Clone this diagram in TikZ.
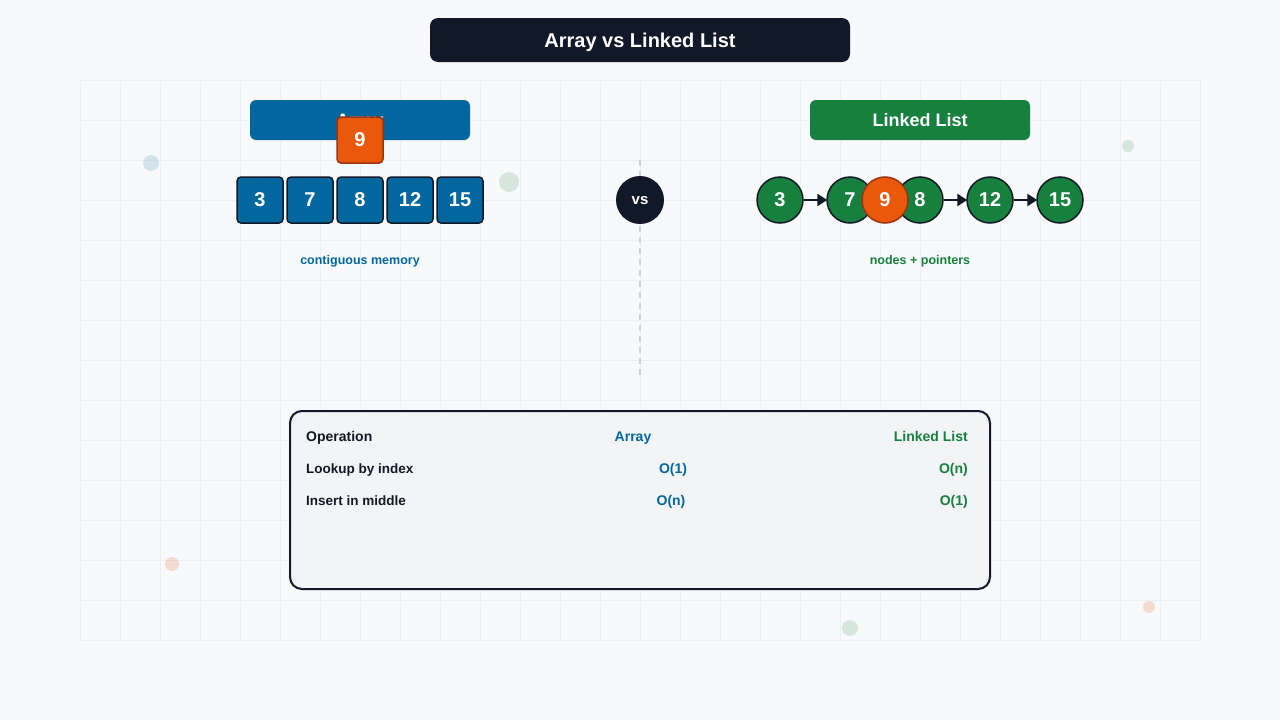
\documentclass[tikz,border=0pt]{standalone}
\usepackage{fontspec}
\setmainfont{Liberation Sans}
\usetikzlibrary{arrows.meta,positioning}

\definecolor{ink}{HTML}{111827}
\definecolor{arrblue}{HTML}{03679F}
\definecolor{listgreen}{HTML}{16803E}
\definecolor{hot}{HTML}{EA580C}
\definecolor{hotline}{HTML}{9A3412}
\definecolor{paper}{HTML}{F8F9FA}
\definecolor{gridc}{HTML}{EDEFF2}
\definecolor{panelc}{HTML}{F3F4F5}
\definecolor{dashc}{HTML}{CDD1D8}

\newcommand{\fs}[1]{\fontsize{#1}{#1}\selectfont\bfseries}

\begin{document}
\begin{tikzpicture}[
    x=1pt, y=-1pt,
    banner/.style={rounded corners=8pt, fill=ink, text=white, minimum width=420pt, minimum height=44pt, text height=15pt, text depth=0pt, font=\fs{20}},
    head/.style={rounded corners=6pt, text=white, minimum width=220pt, minimum height=40pt, text height=13pt, text depth=0pt, font=\fs{18}},
    cell/.style={rounded corners=4pt, draw=ink, line width=1.5pt, fill=arrblue, text=white, minimum size=46pt, inner sep=0pt, font=\fs{20}},
    lnode/.style={circle, draw=ink, line width=1.5pt, fill=listgreen, text=white, minimum size=46pt, inner sep=0pt, font=\fs{20}},
    newcell/.style={fill=hot, draw=hotline},
    ptr/.style={-{Triangle[length=10pt,width=12pt]}, draw=ink, line width=2.5pt, shorten >=-1pt},
    caption/.style={font=\fs{12.5}, text height=9pt, text depth=0pt},
    divider/.style={draw=dashc, line width=1.5pt, dash pattern=on 6pt off 5pt},
    tabtxt/.style={font=\fs{13.5}, inner sep=0pt, text=ink, text height=10pt, text depth=0pt}
]
    \useasboundingbox (0,0) rectangle (1280,720);
    \fill[paper] (0,0) rectangle (1280,720);

    % background grid
    \foreach \gx in {80,120,...,1200} \draw[gridc, line width=1pt] (\gx,80) -- (\gx,640);
    \foreach \gy in {80,120,...,640} \draw[gridc, line width=1pt] (80,\gy) -- (1200,\gy);

    % faint dots
    \fill[arrblue, opacity=.15] (151,163) circle (8);
    \fill[listgreen, opacity=.15] (509,182) circle (10);
    \fill[listgreen, opacity=.15] (1128,146) circle (6);
    \fill[hot, opacity=.18] (172,564) circle (7);
    \fill[listgreen, opacity=.15] (850,628) circle (8);
    \fill[hot, opacity=.18] (1149,607) circle (6);

    \node[banner] (title) at (640,40) {Array vs Linked List};

    % array side
    \node[head, fill=arrblue] (arrhead) at (360,120) {Array};
    \node[cell] (a3) at (260,200) {3};
    \node[cell] (a7) at (310,200) {7};
    \node[cell] (a8) at (360,200) {8};
    \node[cell] (a12) at (410,200) {12};
    \node[cell] (a15) at (460,200) {15};
    \node[cell, newcell] (a9) at (360,140) {9};
    \node[caption, text=arrblue] (arrnote) at (360,260) {contiguous memory};

    % divider
    \coordinate (divtop) at (640,160);
    \coordinate (divbot) at (640,380);
    \draw[divider] (divtop) -- (divbot);
    \node[circle, fill=ink, text=white, minimum size=48pt, inner sep=0pt, text height=8pt, text depth=0pt, font=\fs{15}] (vs) at (640,200) {vs};

    % linked list side
    \node[head, fill=listgreen] (llhead) at (920,120) {Linked List};
    \node[lnode] (l3) at (780,200) {3};
    \node[lnode] (l7) at (850,200) {7};
    \node[lnode] (l8) at (920,200) {8};
    \node[lnode] (l12) at (990,200) {12};
    \node[lnode] (l15) at (1060,200) {15};
    \draw[ptr] (l3) -- (l7);
    \draw[ptr] (l8) -- (l12);
    \draw[ptr] (l12) -- (l15);
    \node[lnode, newcell] (l9) at (885,200) {9};
    \node[caption, text=listgreen] (llnote) at (920,260) {nodes + pointers};

    % comparison table
    \node[rounded corners=12pt, draw=ink, line width=2pt, fill=panelc, minimum width=700pt, minimum height=178pt] (tbl) at (640,500) {};
    \node[tabtxt, anchor=west, font=\fs{14}] (ophead) at (306,436) {Operation};
    \node[tabtxt, text=arrblue, font=\fs{14}] (arrcol) at (633,436) {Array};
    \node[tabtxt, anchor=east, text=listgreen, font=\fs{14}] (llcol) at (968,436) {Linked List};
    \node[tabtxt, anchor=west] (lookup) at (306,468) {Lookup by index};
    \node[tabtxt, text=arrblue, font=\fs{14}] (lookuparr) at (673,468) {O(1)};
    \node[tabtxt, anchor=east, text=listgreen, font=\fs{14}] (lookupll) at (968,468) {O(n)};
    \node[tabtxt, anchor=west] (insert) at (306,500) {Insert in middle};
    \node[tabtxt, text=arrblue, font=\fs{14}] (insertarr) at (671,500) {O(n)};
    \node[tabtxt, anchor=east, text=listgreen, font=\fs{14}] (insertll) at (968,500) {O(1)};
\end{tikzpicture}
\end{document}
